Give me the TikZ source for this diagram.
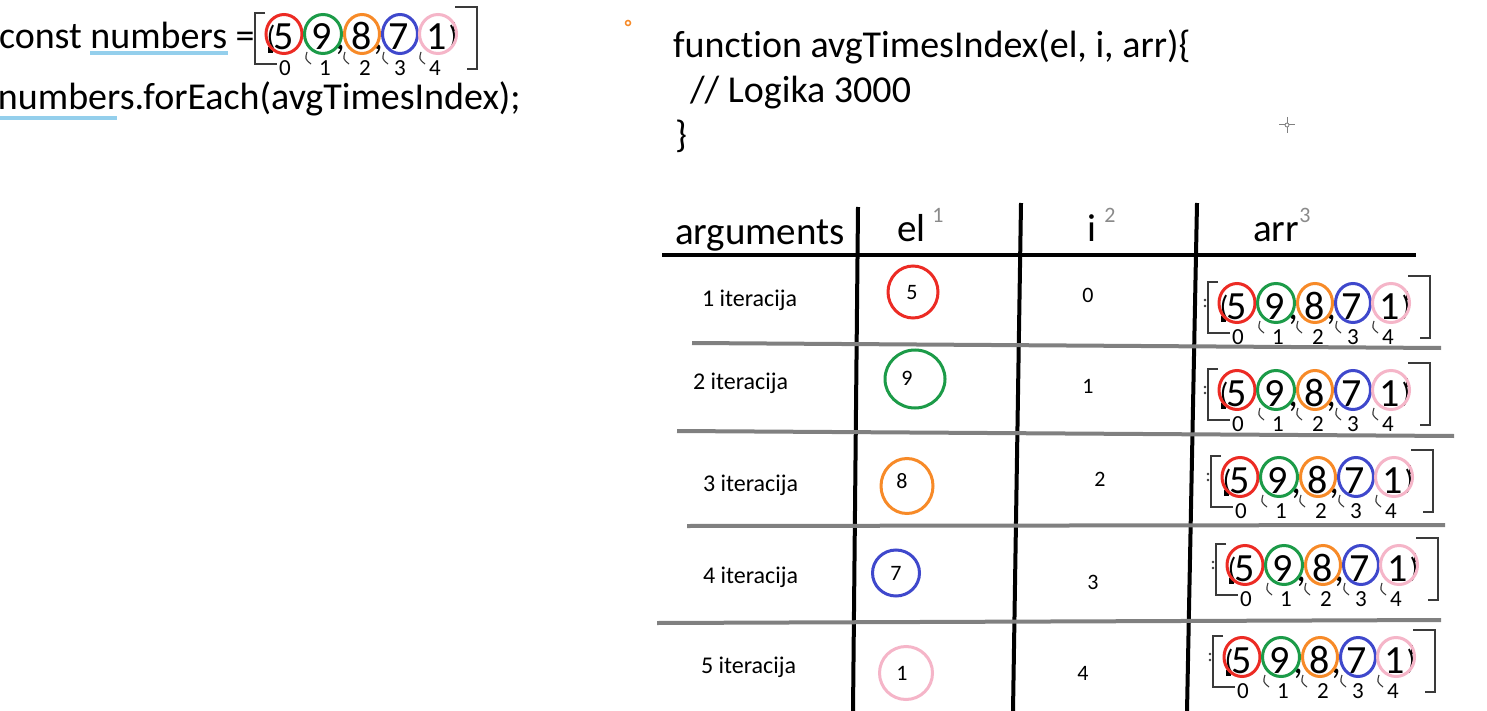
\documentclass[tikz,border=0pt]{standalone}
\usepackage{fontspec}
\setmainfont{Carlito}[Ligatures={NoCommon,NoRequired,NoContextual}]
\definecolor{cred}{HTML}{EC2B24}
\definecolor{cgreen}{HTML}{1C9B48}
\definecolor{corange}{HTML}{F78A28}
\definecolor{cblue}{HTML}{3F48CC}
\definecolor{cpink}{HTML}{F5B5C8}
\definecolor{supgray}{HTML}{8A8A8A}
\definecolor{brkgray}{HTML}{3A3A3A}
\definecolor{sepgray}{HTML}{808080}
\definecolor{ulblue}{HTML}{94CFEC}
\newcommand{\numarr}[4]{%
\begin{scope}[shift={(#1,#2)}]
  \draw[brk] (-19,-21) -- (-29,-21) -- (-29,30) -- (-7,30);
  \draw[brk] (171,-27) -- (193,-27) -- (193,35) -- (183,35);
  #4
  \node[parenstyle] (#3-lp) at (-13,12) {(};
  \node[parenstyle] (#3-rp) at (169,12) {)};
  \fill[black] (-16,13) rectangle (-11,19);
  \fill[black] (169,-12) rectangle (171,-3);
  \node[digit] (#3-d0) at (0,16) {5};
  \node[digit] (#3-d1) at (38,16) {9};
  \node[digit] (#3-c1) at (56,16) {,};
  \node[digit] (#3-d2) at (78,16) {8};
  \node[digit] (#3-c2) at (94,16) {,};
  \node[digit] (#3-d3) at (115,16) {7};
  \node[digit] (#3-d4) at (153,16) {1};
  \draw[ring,cred] (0,0) ellipse [x radius=18,y radius=19.5];
  \draw[ring,cgreen] (39,0) ellipse [x radius=18.5,y radius=19.5];
  \draw[ring,corange] (78,0) ellipse [x radius=17.5,y radius=19.5];
  \draw[ring,cblue] (116,0) ellipse [x radius=17.5,y radius=19.5];
  \draw[ring,cpink] (154,0) ellipse [x radius=18.5,y radius=19.5];
  \foreach \t in {23,61,100,137}{
    \draw[tick] (\t,18) .. controls (\t-2,25) .. (\t+4,30);
  }
  \node[idx] (#3-i0) at (1,34) {0};
  \node[idx] (#3-i1) at (41,34) {1};
  \node[idx] (#3-i2) at (81,34) {2};
  \node[idx] (#3-i3) at (116,34) {3};
  \node[idx] (#3-i4) at (151,34) {4};
\end{scope}}
\newcommand{\arrdots}{\fill[brkgray] (-32,-3) circle (1.4); \fill[brkgray] (-32,3) circle (1.4);}
\begin{document}
\begin{tikzpicture}[x=1pt,y=-1pt,
  txt/.style={inner sep=0pt, outer sep=0pt},
  codetxt/.style={txt, anchor=base west, font=\fontsize{38}{46}\selectfont},
  headtxt/.style={txt, anchor=base west, font=\fontsize{39}{46}\selectfont},
  supstyle/.style={txt, font=\fontsize{22}{24}\selectfont, text=supgray},
  lbltxt/.style={txt, anchor=base west, font=\fontsize{24}{28}\selectfont},
  eltxt/.style={txt, font=\fontsize{22}{26}\selectfont},
  digit/.style={txt, anchor=base, font=\fontsize{40}{46}\selectfont},
  parenstyle/.style={txt, anchor=base, font=\fontsize{28}{32}\selectfont},
  idx/.style={txt, font=\fontsize{23}{26}\selectfont},
  ring/.style={line width=3pt},
  brk/.style={line width=1.3pt, draw=brkgray},
  tick/.style={line width=1.1pt, draw=brkgray},
  blk/.style={line width=4pt, draw=black},
  sepline/.style={line width=4pt, draw=sepgray},
  uline/.style={line width=3.5pt, draw=ulblue}]
\useasboundingbox[fill=white] (0,0) rectangle (1487,711);

% left code
\node[codetxt] (l1) at (-1,49) {const numbers =};
\node[codetxt] (l2) at (-2,110) {numbers.forEach(avgTimesIndex);};
\draw[uline] (90,53) -- (228,53);
\draw[uline] (0,118) -- (117,118);
\numarr{284}{34}{top}{}

% markers
\draw[corange, line width=1.5pt, fill=white] (628,23) circle (2.5);
\draw[sepgray, line width=1pt] (1279,125) -- (1295,125) (1287,117) -- (1287,133);
\draw[sepgray, line width=0.8pt, fill=white] (1287,125) circle (2);

% function
\node[codetxt] (f1) at (673,58) {function avgTimesIndex(el, i, arr)\{};
\node[codetxt] (f2) at (690,103) {// Logika 3000};
\node[codetxt] (f3) at (675,148) {\}};

% table header
\node[headtxt] (hargs) at (675,244) {arguments};
\node[headtxt] (hel) at (897,242) {el};
\node[supstyle] (s1) at (938,215) {1};
\node[headtxt] (hi) at (1087,242) {i};
\node[supstyle] (s2) at (1110,215) {2};
\node[headtxt] (harr) at (1253,242) {arr};
\node[supstyle] (s3) at (1305,215) {3};

% table lines
\draw[blk] (662,255) -- (1416,255);
\draw[blk] (858,207) -- (853,711);
\draw[blk] (1021,203) -- (1013,711);
\draw[blk] (1197,203) -- (1187,711);
\draw[sepline] (692,343) -- (1441,348);
\draw[sepline] (677,431) -- (1454,436);
\draw[sepline] (687,526) -- (1445,525);
\draw[sepline] (657,623) -- (1441,620);

% row labels
\node[lbltxt] (r1) at (702,306) {1 iteracija};
\node[lbltxt] (r2) at (693,389) {2 iteracija};
\node[lbltxt] (r3) at (703,491) {3 iteracija};
\node[lbltxt] (r4) at (703,583) {4 iteracija};
\node[lbltxt] (r5) at (701,673) {5 iteracija};

% el column
\draw[ring,cred] (913,292) ellipse [x radius=25,y radius=26];
\node[eltxt] (e1) at (912,293) {5};
\draw[ring,cgreen] (915,379) ellipse [x radius=30,y radius=29];
\node[eltxt] (e2) at (907,378) {9};
\draw[ring,corange] (907,486) ellipse [x radius=26,y radius=27.5];
\node[eltxt] (e3) at (902,481) {8};
\draw[ring,cblue] (896,573) ellipse [x radius=23.5,y radius=23];
\node[eltxt] (e4) at (896,573) {7};
\draw[ring,cpink] (906,673) ellipse [x radius=26.5,y radius=26.5];
\node[eltxt] (e5) at (902,673) {1};

% i column
\node[eltxt] (i1) at (1088,295) {0};
\node[eltxt] (i2) at (1088,386) {1};
\node[eltxt] (i3) at (1100,479) {2};
\node[eltxt] (i4) at (1093,582) {3};
\node[eltxt] (i5) at (1083,673) {4};

% arr column
\numarr{1237}{303}{a1}{\arrdots}
\numarr{1237}{390}{a2}{\arrdots}
\numarr{1240}{477}{a3}{\arrdots}
\numarr{1245}{565}{a4}{\arrdots}
\numarr{1242}{657}{a5}{\arrdots}
\end{tikzpicture}
\end{document}
